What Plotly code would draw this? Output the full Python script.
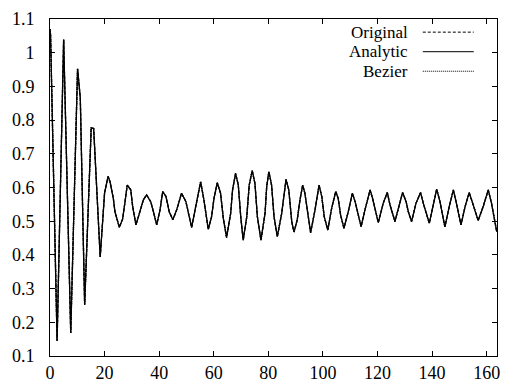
import plotly.graph_objects as go

# values (the three curves sit on top of each other)
t = [0.0, 0.2, 2.6, 5.0, 7.6, 10.1, 11.1, 12.7, 15.1, 16.0, 18.4, 20.0, 21.3, 22.0,
     23.2, 23.8, 25.4, 26.6, 27.5, 28.3, 29.6, 30.3, 31.5, 33.0, 34.2, 35.4, 36.9,
     37.9, 39.1, 40.3, 41.3, 42.5, 43.7, 45.0, 46.4, 48.2, 49.8, 51.9, 53.5, 55.2,
     56.4, 58.0, 59.2, 60.1, 61.3, 62.5, 63.5, 64.7, 66.2, 66.9, 68.0, 69.0, 69.9,
     70.8, 72.1, 73.0, 74.1, 75.1, 76.0, 77.3, 78.8, 79.4, 80.2, 81.2, 82.1, 83.3,
     84.9, 86.5, 87.5, 88.6, 89.4, 90.6, 91.6, 92.6, 93.4, 94.3, 95.5, 97.1, 98.6,
     99.6, 100.5, 101.8, 103.2, 104.7, 105.6, 106.5, 107.7, 109.3, 110.8, 111.8,
     113.0, 114.0, 115.4, 117.3, 118.2, 119.1, 120.3, 122.1, 123.6, 124.6, 125.6,
     126.4, 128.0, 129.2, 130.5, 131.3, 132.5, 134.1, 135.8, 136.8, 139.0, 140.5,
     141.7, 142.9, 144.7, 146.3, 147.8, 148.8, 150.6, 152.1, 153.6, 154.9, 156.9,
     158.8, 160.6, 161.8, 163.7]
signal = [1.07, 1.053, 0.145, 1.039, 0.168, 0.952, 0.866, 0.252, 0.777, 0.775, 0.394,
          0.584, 0.633, 0.617, 0.568, 0.528, 0.482, 0.506, 0.558, 0.607, 0.593, 0.543,
          0.489, 0.528, 0.563, 0.578, 0.558, 0.528, 0.489, 0.533, 0.588, 0.573, 0.528,
          0.504, 0.533, 0.583, 0.558, 0.482, 0.543, 0.617, 0.563, 0.476, 0.513, 0.568,
          0.614, 0.583, 0.509, 0.452, 0.523, 0.593, 0.642, 0.607, 0.513, 0.444, 0.513,
          0.607, 0.650, 0.612, 0.513, 0.444, 0.523, 0.602, 0.647, 0.607, 0.513, 0.454,
          0.523, 0.624, 0.593, 0.498, 0.468, 0.504, 0.563, 0.607, 0.583, 0.528, 0.466,
          0.533, 0.607, 0.573, 0.513, 0.474, 0.538, 0.588, 0.568, 0.518, 0.479, 0.528,
          0.583, 0.558, 0.513, 0.484, 0.533, 0.593, 0.568, 0.533, 0.496, 0.553, 0.585,
          0.548, 0.523, 0.499, 0.548, 0.585, 0.558, 0.528, 0.499, 0.553, 0.585, 0.553,
          0.494, 0.548, 0.595, 0.558, 0.483, 0.543, 0.593, 0.558, 0.489, 0.543, 0.585,
          0.553, 0.502, 0.545, 0.593, 0.553, 0.469]

original = signal
analytic = signal
bezier = signal

series = [("Original", original, "3px,2px"),
          ("Analytic", analytic, "solid"),
          ("Bezier", bezier, "1px,1px")]

y_ticks = [0.1, 0.2, 0.3, 0.4, 0.5, 0.6, 0.7, 0.8, 0.9, 1.0, 1.1]
y_labels = ["0.1", "0.2", "0.3", "0.4", "0.5", "0.6", "0.7", "0.8", "0.9", "1", "1.1"]
x_ticks = [0, 20, 40, 60, 80, 100, 120, 140, 160]

font = "Liberation Serif"
textsize = 18
keysize = 17

fig = go.Figure()
for name, vals, dash in series:
    fig.add_trace(go.Scatter(
        x=t, y=vals, mode="lines", name=name,
        line=dict(color="black", width=1.3, dash=dash),
        showlegend=False, hoverinfo="skip",
    ))

# gnuplot style key: text right-aligned, line sample to its right
key_y = [0.961, 0.903, 0.845]
for (name, vals, dash), ky in zip(series, key_y):
    fig.add_annotation(
        x=0.806, y=ky, xref="paper", yref="paper", text=name, showarrow=False,
        xanchor="right", yanchor="middle",
        font=dict(family=font, size=keysize, color="black"),
    )
    fig.add_shape(
        type="line", xref="paper", yref="paper",
        x0=0.834, x1=0.948, y0=ky, y1=ky,
        line=dict(color="black", width=1, dash=dash),
    )

axis_common = dict(
    showline=True, linecolor="black", linewidth=1, mirror="ticks",
    ticks="inside", ticklen=5, tickcolor="black", tickwidth=1,
    showgrid=False, zeroline=False, automargin=False,
    tickfont=dict(family=font, size=textsize, color="black"),
)

fig.update_layout(
    width=510, height=383,
    plot_bgcolor="white", paper_bgcolor="white",
    margin=dict(l=50, r=13, t=19, b=27),
    font=dict(family=font, size=textsize, color="black"),
    xaxis=dict(range=[0, 163.8], tickvals=x_ticks, ticklabelstandoff=0, **axis_common),
    yaxis=dict(range=[0.1, 1.1], tickvals=y_ticks, ticktext=y_labels,
               ticklabelstandoff=11, **axis_common),
)

# drop the page's default body margin so the figure sits at the window's corner
fig.write_html("out.html", config={"displayModeBar": False},
               post_script="document.body.style.margin='0';")
